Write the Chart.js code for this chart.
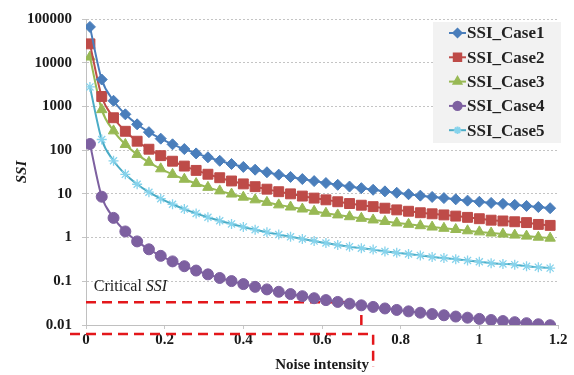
<!DOCTYPE html>
<html>
<head>
<meta charset="utf-8">
<script src="https://cdn.jsdelivr.net/npm/chart.js@4.4.1/dist/chart.umd.min.js"></script>
<style>
  html, body { margin: 0; padding: 0; background: #fff; }
</style>
</head>
<body>
<canvas id="ssiChart" width="574" height="375"></canvas>
<script>
// -------------------------    Data    -------------------------

var noise = [0.01, 0.04, 0.07, 0.10, 0.13, 0.16, 0.19, 0.22, 0.25, 0.28,
             0.31, 0.34, 0.37, 0.40, 0.43, 0.46, 0.49, 0.52, 0.55, 0.58,
             0.61, 0.64, 0.67, 0.70, 0.73, 0.76, 0.79, 0.82, 0.85, 0.88,
             0.91, 0.94, 0.97, 1.00, 1.03, 1.06, 1.09, 1.12, 1.15, 1.18];

var ssiCase1 = [66000, 4125, 1347, 660, 390, 258, 183, 136, 106, 84.2,
                68.7, 57.1, 48.2, 41.3, 35.7, 31.2, 27.5, 24.4, 21.8, 19.6,
                17.7, 16.1, 14.7, 13.5, 12.4, 11.4, 10.6, 9.8, 9.1, 8.5,
                8.0, 7.5, 7.0, 6.6, 6.2, 5.9, 5.6, 5.3, 5.0, 4.7];

var ssiCase2 = [27000, 1688, 551, 270, 160, 105, 74.8, 55.8, 43.2, 34.4,
                28.1, 23.4, 19.7, 16.9, 14.6, 12.8, 11.2, 10.0, 8.9, 8.0,
                7.3, 6.6, 6.0, 5.5, 5.1, 4.7, 4.3, 4.0, 3.7, 3.5,
                3.3, 3.1, 2.9, 2.7, 2.5, 2.4, 2.3, 2.2, 2.0, 1.9];

var ssiCase3 = [13500, 844, 276, 135, 79.9, 52.7, 37.4, 27.9, 21.6, 17.2,
                14.1, 11.7, 9.9, 8.4, 7.3, 6.4, 5.6, 5.0, 4.5, 4.0,
                3.6, 3.3, 3.0, 2.76, 2.53, 2.34, 2.16, 2.01, 1.87, 1.74,
                1.63, 1.53, 1.43, 1.35, 1.27, 1.20, 1.14, 1.08, 1.02, 0.97];

var ssiCase4 = [138, 8.6, 2.82, 1.38, 0.817, 0.539, 0.382, 0.285, 0.221, 0.176,
                0.144, 0.119, 0.101, 0.0863, 0.0746, 0.0652, 0.0575, 0.0510, 0.0456, 0.0410,
                0.0371, 0.0337, 0.0307, 0.0282, 0.0259, 0.0239, 0.0221, 0.0205, 0.0191, 0.0178,
                0.0167, 0.0156, 0.0147, 0.0138, 0.0130, 0.0123, 0.0116, 0.0110, 0.0104, 0.0099];

var ssiCase5 = [2800, 175, 57.1, 28, 16.6, 10.9, 7.76, 5.79, 4.48, 3.57,
                2.91, 2.42, 2.05, 1.75, 1.51, 1.32, 1.17, 1.04, 0.93, 0.83,
                0.75, 0.68, 0.62, 0.57, 0.53, 0.48, 0.45, 0.42, 0.39, 0.36,
                0.34, 0.32, 0.30, 0.28, 0.26, 0.25, 0.24, 0.22, 0.21, 0.20];

var seriesNames = ['SSI_Case1', 'SSI_Case2', 'SSI_Case3', 'SSI_Case4', 'SSI_Case5'];

// critical SSI level and the noise intensity where it is reached
var criticalSSI = 0.033;
var criticalNoise = 0.7;

var yTicks = [0.01, 0.1, 1, 10, 100, 1000, 10000, 100000];
var yTickLabels = ['0.01', '0.1', '1', '10', '100', '1000', '10000', '100000'];
var xTicks = [0, 0.2, 0.4, 0.6, 0.8, 1, 1.2];
var xTickLabels = ['0', '0.2', '0.4', '0.6', '0.8', '1', '1.2'];


// -------------------------    Styles    -------------------------

var serif = '"Liberation Serif", "Times New Roman", serif';
var redDash = '#e3171b';

var styles = [
    { line: '#4a7ebb', fill: '#4a7ebb', point: 'rectRot', radius: 5.5 },
    { line: '#be4b48', fill: '#be4b48', point: 'rect', radius: 7 },
    { line: '#98b954', fill: '#98b954', point: 'triangle', radius: 6 },
    { line: '#7d60a0', fill: '#7d60a0', point: 'circle', radius: 5.5 },
    { line: '#4bacc6', fill: '#86d3ec', point: 'star', radius: 5 },
];

function toPoints(values) {
    return values.map(function (v, i) { return { x: noise[i], y: v }; });
}

var allSeries = [ssiCase1, ssiCase2, ssiCase3, ssiCase4, ssiCase5];
var datasets = [];

for (let i = 0; i < allSeries.length; i++) {
    datasets.push({
        label: seriesNames[i],
        data: toPoints(allSeries[i]),
        borderColor: styles[i].line,
        backgroundColor: styles[i].fill,
        pointBorderColor: styles[i].fill,
        pointBackgroundColor: styles[i].fill,
        pointStyle: styles[i].point,
        pointRadius: styles[i].radius,
        pointBorderWidth: i === 4 ? 1.3 : 1,
        borderWidth: 2,
        cubicInterpolationMode: 'monotone',
        order: i,
    });
}

// critical SSI guide line (inside the plot)
datasets.push({
    label: 'critical',
    data: [{ x: 0, y: criticalSSI }, { x: criticalNoise, y: criticalSSI }, { x: criticalNoise, y: 0.01 }],
    borderColor: redDash,
    borderWidth: 2.5,
    borderDash: [10, 6],
    pointRadius: 0,
    tension: 0,
    order: 10,
});


// -------------------------    Plugins    -------------------------

var annotationPlugin = {
    id: 'annotations',
    afterDraw: function (chart) {
        const ctx = chart.ctx;
        const area = chart.chartArea;
        const xs = chart.scales.x;
        const ys = chart.scales.y;

        // "Critical SSI" label
        ctx.save();
        ctx.fillStyle = '#222';
        ctx.textBaseline = 'middle';
        ctx.font = '16px ' + serif;
        let tx = xs.getPixelForValue(0.02);
        let ty = ys.getPixelForValue(0.073);
        ctx.fillText('Critical ', tx, ty);
        let w = ctx.measureText('Critical ').width;
        ctx.font = 'italic 16px ' + serif;
        ctx.fillText('SSI', tx + w, ty);
        ctx.restore();

        // red bracket under the x axis
        ctx.save();
        ctx.strokeStyle = redDash;
        ctx.lineWidth = 2.5;
        ctx.setLineDash([10, 6]);
        let bx = xs.getPixelForValue(0.73);
        ctx.beginPath();
        ctx.moveTo(area.left - 16, area.bottom + 9);
        ctx.lineTo(bx, area.bottom + 9);
        ctx.lineTo(bx, area.bottom + 42);
        ctx.stroke();
        ctx.restore();

        // legend box
        ctx.save();
        ctx.fillStyle = '#f2f2f2';
        ctx.fillRect(433, 22, 128, 121);
        ctx.font = 'bold 17px ' + serif;
        ctx.textBaseline = 'middle';
        for (let i = 0; i < seriesNames.length; i++) {
            let ly = 33 + i * 24.3;
            ctx.strokeStyle = styles[i].line;
            ctx.lineWidth = 2;
            ctx.setLineDash([]);
            ctx.beginPath();
            ctx.moveTo(449, ly);
            ctx.lineTo(466, ly);
            ctx.stroke();
            ctx.fillStyle = styles[i].fill;
            ctx.strokeStyle = styles[i].fill;
            Chart.helpers.drawPoint(ctx, {
                pointStyle: styles[i].point,
                radius: styles[i].radius * 0.75,
                rotation: 0,
                borderWidth: 1,
            }, 457.5, ly);
            ctx.fillStyle = '#222';
            ctx.fillText(seriesNames[i], 467, ly + 1);
        }
        ctx.restore();
    }
};


// -------------------------    Chart Setup    -------------------------

var ctx = document.getElementById('ssiChart').getContext('2d');
var ssiChart = new Chart(ctx, {
    type: 'line',
    data: { datasets: datasets },
    options: {
        responsive: false,
        animation: false,
        devicePixelRatio: 1,
        layout: { padding: { top: 17, right: 16, bottom: 0, left: 0 } },
        plugins: {
            legend: { display: false },
            tooltip: { enabled: false },
        },
        scales: {
            x: {
                type: 'linear',
                min: 0,
                max: 1.2,
                afterBuildTicks: function (scale) {
                    scale.ticks = xTicks.map(function (v) { return { value: v }; });
                },
                afterFit: function (scale) { scale.height = 50; },
                ticks: {
                    callback: function (value) { return xTickLabels[xTicks.indexOf(value)]; },
                    font: { family: serif, size: 15, weight: 'bold' },
                    color: '#1a1a1a',
                    padding: 2,
                    maxRotation: 0,
                },
                grid: {
                    drawOnChartArea: false,
                    tickLength: 4,
                    color: '#c8c8c8',
                },
                border: { color: '#c0c0c0', width: 1 },
                title: {
                    display: true,
                    text: 'Noise intensity',
                    font: { family: serif, size: 15, weight: 'bold' },
                    color: '#1a1a1a',
                    padding: { top: 0, bottom: 1 },
                },
            },
            y: {
                type: 'logarithmic',
                min: 0.01,
                max: 100000,
                afterBuildTicks: function (scale) {
                    scale.ticks = yTicks.map(function (v) { return { value: v }; });
                },
                afterFit: function (scale) { scale.width = 86; },
                ticks: {
                    callback: function (value) { return yTickLabels[yTicks.indexOf(value)]; },
                    font: { family: serif, size: 15, weight: 'bold' },
                    color: '#1a1a1a',
                    padding: 10,
                },
                grid: {
                    color: '#c4c4c4',
                    tickLength: 4,
                },
                border: { color: '#c0c0c0', width: 1, dash: [2, 2] },
                title: {
                    display: true,
                    text: 'SSI',
                    font: { family: serif, size: 15, weight: 'bold', style: 'italic' },
                    color: '#1a1a1a',
                    padding: { top: 13, bottom: 0 },
                },
            },
        },
    },
    plugins: [annotationPlugin],
});
</script>
</body>
</html>
